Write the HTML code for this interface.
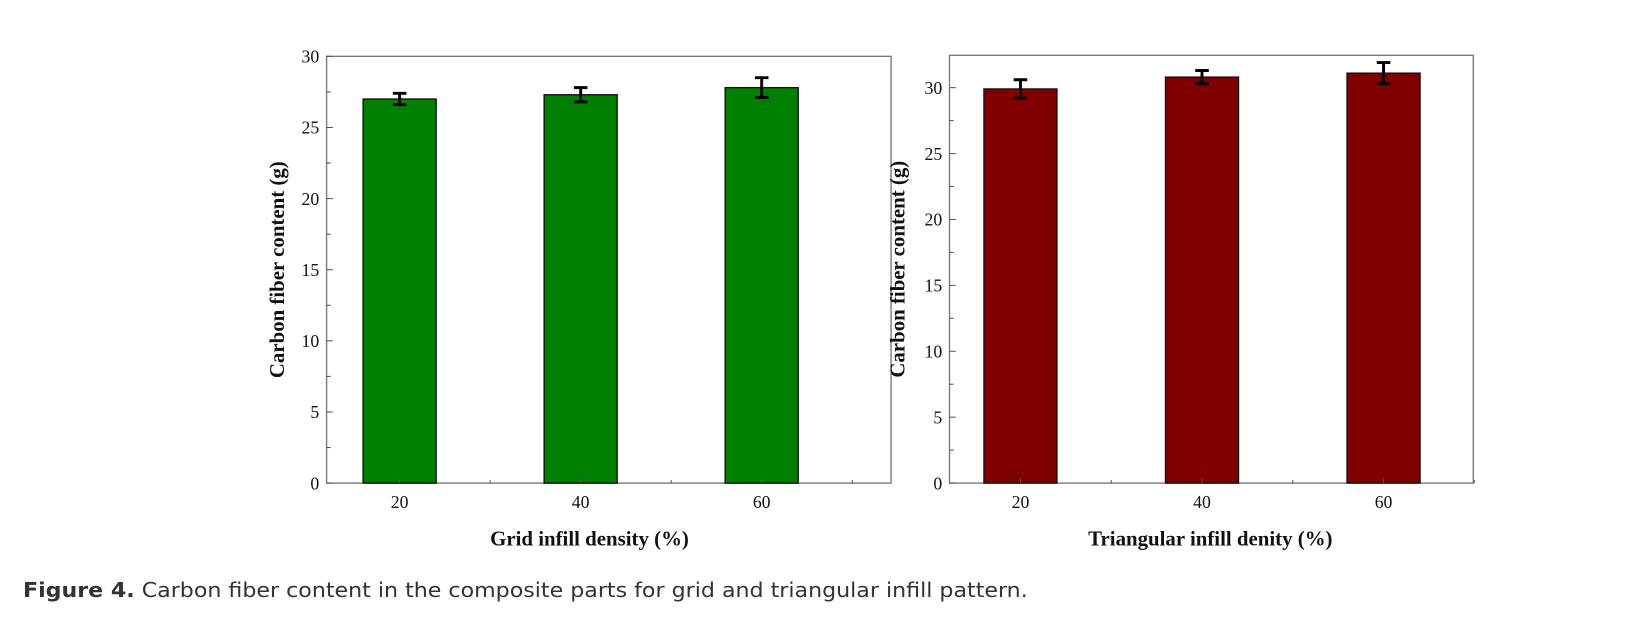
<!DOCTYPE html>
<html><head><meta charset="utf-8"><style>
body{margin:0;background:#fff;width:1636px;height:642px;overflow:hidden}
svg{position:absolute;left:0;top:0}
.t{font-family:"Liberation Serif",serif;font-size:17px;fill:#111}
.ti{font-family:"Liberation Serif",serif;font-size:20px;font-weight:bold;fill:#111}
.cap{font-family:"DejaVu Sans","Liberation Sans",sans-serif;font-size:20px;fill:#333}
</style></head><body>
<svg width="1636" height="642">
<g id="c" transform="scale(1.0434)">
<text class="cap" x="22" y="572" textLength="963" lengthAdjust="spacingAndGlyphs"><tspan font-weight="bold">Figure 4.</tspan>  Carbon fiber content in the composite parts for grid and triangular infill pattern.</text>
</g>
</svg>
<script>
const categories=[20,40,60];
const gridValues=[27.0,27.3,27.8];
const gridErrors=[0.4,0.5,0.7];
const triValues=[29.9,30.8,31.1];
const triErrors=[0.7,0.5,0.8];
const gridTicks=[0,5,10,15,20,25,30];
const triTicks=[0,5,10,15,20,25,30];
const NS="http://www.w3.org/2000/svg";
const svg=document.getElementById('c');
function mk(tag,at,parent){const e=document.createElementNS(NS,tag);for(const k in at)e.setAttribute(k,at[k]);(parent||svg).appendChild(e);return e;}
function panel(o){
 const g=mk('g',{});
 
 
 const y=v=>o.y0-(v-0)*o.py;
 const x=c=>o.c20+(c-20)/20*o.step;
 const ax=mk('rect',{x:o.L,y:o.T,width:o.R-o.L,height:o.y0-o.T,fill:'none',stroke:'#777','stroke-width':1.3},g);
 
 
 o.values.forEach((v,i)=>{
  const cx=x(categories[i]);
  const b=mk('rect',{x:cx-35,y:y(v),width:70,height:o.y0-y(v),fill:o.color,stroke:'#111','stroke-width':1.3},g);
  
  
  const e=o.errs[i];
  const eb=mk('path',{d:`M${cx},${y(v+e)}V${y(v-e)}M${cx-6.5},${y(v+e)}H${cx+6.5}M${cx-6.5},${y(v-e)}H${cx+6.5}`,stroke:'#000','stroke-width':2.8,fill:'none'},g);
  
  
 });
 o.ticks.forEach(t=>{
  mk('line',{x1:o.L,x2:o.L+6,y1:y(t),y2:y(t),stroke:'#555'},g);
  if(y(t+2.5)>o.T+2) mk('line',{x1:o.L,x2:o.L+4,y1:y(t+2.5),y2:y(t+2.5),stroke:'#555'},g);
  const tl=mk('text',{x:o.L-7,y:y(t)+6,'text-anchor':'end',class:'t'},g);
  tl.textContent=t;
  
  
 });
 categories.forEach((c,i)=>{
  mk('line',{x1:x(c),x2:x(c),y1:o.y0,y2:o.y0-5,stroke:'#555'},g);
  mk('line',{x1:x(c)+o.step/2,x2:x(c)+o.step/2,y1:o.y0,y2:o.y0-3,stroke:'#555'},g);
  const tl=mk('text',{x:x(c),y:o.y0+24,'text-anchor':'middle',class:'t'},g);
  tl.textContent=c;
  
  
 });
 const xt=mk('text',{x:o.xtX,y:523,'text-anchor':'middle',class:'ti'},g);
 xt.textContent=o.xtitle;
 
 
 const cy=(o.T+o.y0)/2;
 const yt=mk('text',{x:o.ytX,y:cy,'text-anchor':'middle',class:'ti',transform:`rotate(-90 ${o.ytX} ${cy})`},g);
 yt.textContent='Carbon fiber content (g)';
 
 
}
panel({name:'grid-chart',L:313,R:854,T:54,y0:463,py:409/30,c20:383,step:173.5,values:gridValues,errs:gridErrors,ticks:gridTicks,color:'#008000',xtitle:'Grid infill density (%)',xtX:565,ytX:272});
panel({name:'triangular-chart',L:910,R:1412,T:53,y0:463,py:(463-84)/30,c20:978,step:174,values:triValues,errs:triErrors,ticks:triTicks,color:'#800000',xtitle:'Triangular infill denity (%)',xtX:1160,ytX:867});
</script>
</body></html>
